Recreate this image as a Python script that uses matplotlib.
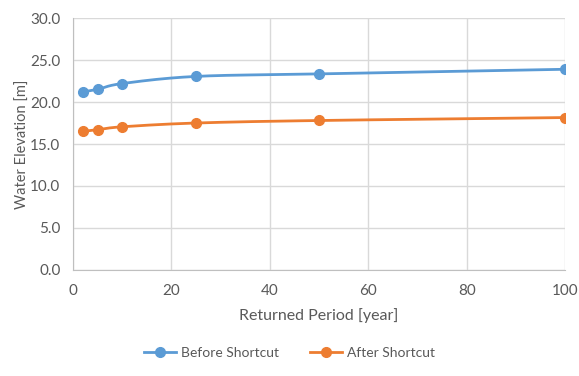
import numpy as np
import matplotlib
matplotlib.use("Agg")
import matplotlib.pyplot as plt
from matplotlib.ticker import FormatStrFormatter

plt.rcParams['font.family'] = ['Lato', 'DejaVu Sans']

# data
periods = [2, 5, 10, 25, 50, 100]
before_shortcut = [21.2, 21.5, 22.2, 23.05, 23.35, 23.9]
after_shortcut = [16.5, 16.7, 17.05, 17.5, 17.8, 18.15]
series_names = ['Before Shortcut', 'After Shortcut']
colors = ['#5B9BD5', '#ED7D31']
text_col = '#595959'


def smooth(x, y, n=30):
    # Catmull-Rom like Excel's smoothed line
    x = np.asarray(x, float)
    y = np.asarray(y, float)
    px = np.concatenate([[2 * x[0] - x[1]], x, [2 * x[-1] - x[-2]]])
    py = np.concatenate([[2 * y[0] - y[1]], y, [2 * y[-1] - y[-2]]])
    xs, ys = [], []
    t = np.linspace(0, 1, n)
    for i in range(1, len(px) - 2):
        p0, p1, p2, p3 = [np.array([px[j], py[j]]) for j in range(i - 1, i + 3)]
        c1 = p1 + (p2 - p0) / 6
        c2 = p2 - (p3 - p1) / 6
        pts = ((1 - t) ** 3)[:, None] * p1 + (3 * (1 - t) ** 2 * t)[:, None] * c1 \
            + (3 * (1 - t) * t ** 2)[:, None] * c2 + (t ** 3)[:, None] * p2
        xs.extend(pts[:, 0])
        ys.extend(pts[:, 1])
    return xs, ys


fig = plt.figure(figsize=(5.79, 3.76), dpi=100)
ax = fig.add_axes([0.126, 0.282, 0.850, 0.670])

for vals, name, c in zip([before_shortcut, after_shortcut], series_names, colors):
    sx, sy = smooth(periods, vals)
    ax.plot(sx, sy, color=c, lw=2, zorder=3)
    ax.plot(periods, vals, 'o', color=c, ms=7, zorder=4)
    ax.plot([], [], '-o', color=c, lw=2, ms=7, label=name)

ax.set_xlim(0, 100)
ax.set_ylim(0, 30)
ax.set_xticks(range(0, 101, 20))
ax.set_yticks(range(0, 31, 5))
ax.yaxis.set_major_formatter(FormatStrFormatter('%.1f'))
ax.grid(True, color='#d9d9d9', lw=1)
ax.set_axisbelow(True)
for s in ['top', 'right']:
    ax.spines[s].set_visible(False)
for s in ['left', 'bottom']:
    ax.spines[s].set_color('#bfbfbf')
ax.tick_params(length=0, colors=text_col, labelsize=11)
ax.tick_params(axis='y', pad=9)
ax.tick_params(axis='x', pad=10)
ax.set_xlabel('Returned Period [year]', color=text_col, fontsize=11.5, labelpad=7)
ax.set_ylabel('Water Elevation [m]', color=text_col, fontsize=10.5, labelpad=0)

fig.legend(loc='center', bbox_to_anchor=(0.5, 0.062), ncol=2, frameon=False,
           fontsize=10, labelcolor=text_col, handlelength=2.3, handletextpad=0.4,
           columnspacing=2.2)

fig.savefig('out.png', dpi=100)
